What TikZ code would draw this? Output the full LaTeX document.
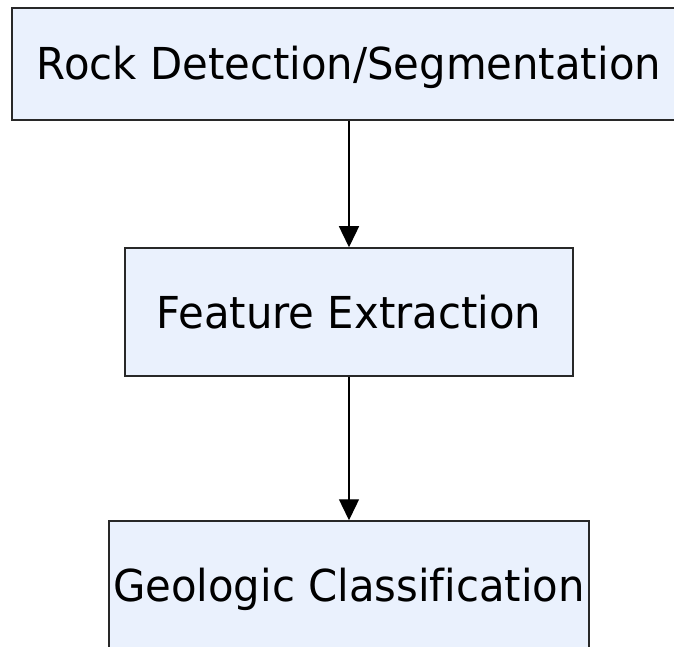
\documentclass[tikz,border=0pt]{standalone}
\usepackage{fontspec}
\setmainfont{DejaVu Sans}[FakeStretch=0.95,Ligatures=NoCommon]
\usetikzlibrary{arrows.meta}
\definecolor{boxfill}{RGB}{234,241,253}
\definecolor{boxline}{RGB}{40,40,40}
\tikzset{
  stagebox/.style={draw=boxline, fill=boxfill, line width=1.5pt, rectangle,
    inner sep=0pt, text height=32pt, text depth=0pt, font=\fontsize{44}{50}\selectfont},
  flowarrow/.style={draw=black, line width=1.4pt, -{Triangle[length=21pt,width=20pt]}}
}
\begin{document}
\begin{tikzpicture}[x=1pt,y=1pt]
\useasboundingbox (0,0) rectangle (674,646);
\clip (0,0) rectangle (674,646);
\node[stagebox, minimum width=674pt, minimum height=112pt] (rock) at (349,582) {Rock Detection/Segmentation};
\node[stagebox, minimum width=448pt, minimum height=128pt] (feat) at (349,334) {Feature Extraction};
\node[stagebox, minimum width=480pt, minimum height=128pt] (geo) at (349,61) {Geologic Classification};
\draw[flowarrow] (rock.south) -- (feat.north);
\draw[flowarrow] (feat.south) -- (geo.north);
\end{tikzpicture}
\end{document}
